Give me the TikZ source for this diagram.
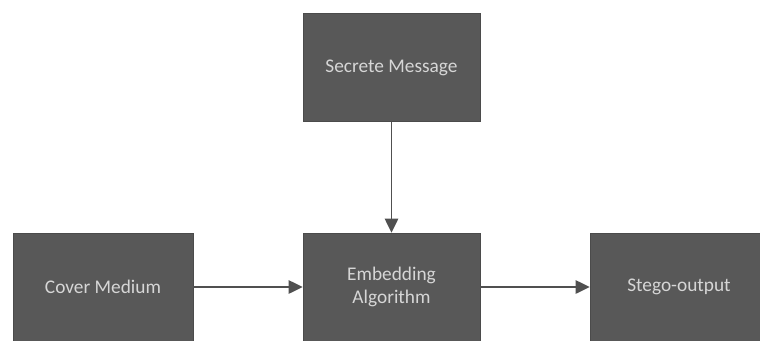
\documentclass[tikz,border=0pt]{standalone}
\usepackage{fontspec}
\setmainfont{Carlito}
\usetikzlibrary{arrows.meta}
\definecolor{boxgray}{HTML}{585858}
\definecolor{textgray}{HTML}{D6D6D6}
\definecolor{linegray}{HTML}{505050}
\tikzset{
    block/.style={rectangle, fill=boxgray, draw=boxgray!85!black, text=textgray,
        minimum width=132.75pt, minimum height=81pt, inner sep=0pt, align=center,
        font=\fontsize{14.5}{17}\selectfont},
    flow/.style={draw=linegray, line width=1.1pt, -{Triangle[length=10.5pt, width=10pt]}}
}
\begin{document}
\begin{tikzpicture}[x=0.75pt, y=-0.75pt]
    \useasboundingbox (0,0) rectangle (760,340);
    \clip (0,0) rectangle (760,340);
    \node[block] (secret) at (391.5,67.5) {Secrete Message};
    \node[block, minimum width=135pt] (cover) at (103,287) {Cover Medium};
    \node[block] (embed) at (391.5,287) {Embedding\\Algorithm};
    \node[block, minimum width=133.5pt] (stego) at (679,287) {Stego-output};
    \path (secret) edge[flow] (embed);
    \path (cover) edge[flow] (embed);
    \path (embed) edge[flow] (stego);
\end{tikzpicture}
\end{document}
